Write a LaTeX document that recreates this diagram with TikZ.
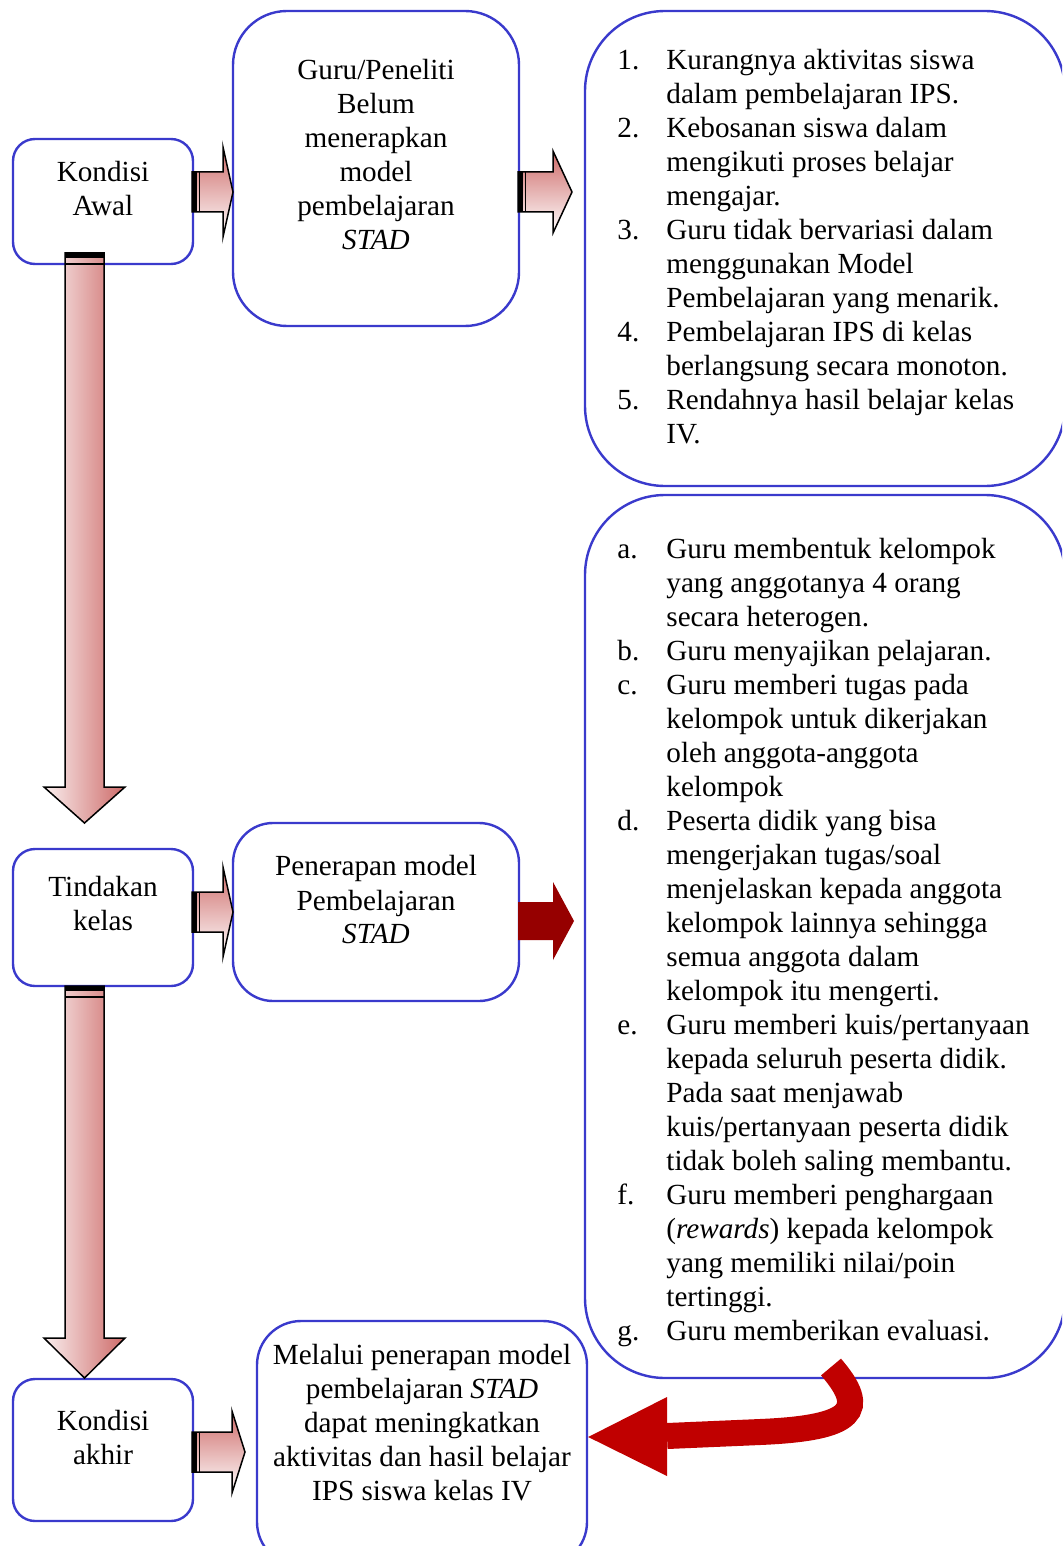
\documentclass[tikz,border=0pt]{standalone}
\usepackage{fontspec}
\setmainfont{Liberation Serif}
\usepackage{tikz}
\usetikzlibrary{calc}

\definecolor{garisbiru}{RGB}{58,58,204}
\definecolor{merahmuda}{RGB}{200,90,88}
\definecolor{merahtua}{RGB}{150,0,0}
\definecolor{merahterang}{RGB}{192,0,0}

\tikzset{
  kotak/.style={draw=garisbiru, line width=1.2pt, fill=white},
  teks/.style={align=center, inner sep=0pt, font=\fontsize{14.6}{17}\selectfont},
  daftar/.style={inner sep=0pt, font=\fontsize{14.6}{17}\selectfont},
  panah/.style={draw=black, line width=0.75pt},
}

% panah kanan berongga: pangkal, leher, ujung, tengah y, setengah kepala
\newcommand{\panahkanan}[5]{%
  \draw[panah, top color=merahmuda!90, bottom color=white]
    (#1,#4-20) -- (#2,#4-20) -- (#2,#4-#5) -- (#3,#4) -- (#2,#4+#5) -- (#2,#4+20) -- (#1,#4+20) -- cycle;
  \fill[black] (#1,#4-20) rectangle (#1+5,#4+20);
  \draw[line width=0.6pt] (#1+7.5,#4-20) -- (#1+7.5,#4+20);
}
% panah bawah: atas, leher, ujung
\newcommand{\panahbawah}[3]{%
  \draw[panah, left color=merahmuda!10, right color=merahmuda!90]
    (65,#1) -- (65,#2) -- (44,#2) -- (84.5,#3) -- (125,#2) -- (104,#2) -- (104,#1) -- cycle;
  \fill[black] (65,#1) rectangle (104,#1+5);
  \draw[line width=0.8pt] (65,#1+11) -- (104,#1+11);
}

\begin{document}
\begin{tikzpicture}[x=0.5pt, y=-0.5pt]

	\useasboundingbox (0,0) rectangle (1062,1546);
	\clip (0,0) rectangle (1062,1546);

	% kotak-kotak
	\node[kotak, minimum width=90pt, minimum height=62.5pt, rounded corners=11pt] (awal) at (103,201.5) {};
	\node[kotak, minimum width=143pt, minimum height=157.5pt, rounded corners=27pt] (guru) at (376,168.5) {};
	\node[kotak, minimum width=240pt, minimum height=237.5pt, rounded corners=40pt] (masalah) at (825,248.5) {};
	\node[kotak, minimum width=240pt, minimum height=441.5pt, rounded corners=40pt] (langkah) at (825,936.5) {};
	\node[kotak, minimum width=90pt, minimum height=68.5pt, rounded corners=11pt] (tindakan) at (103,917.5) {};
	\node[kotak, minimum width=143pt, minimum height=89pt, rounded corners=20pt] (penerapan) at (376,912) {};
	\node[kotak, minimum width=90pt, minimum height=71pt, rounded corners=11pt] (akhir) at (103,1450) {};
	\node[kotak, minimum width=165pt, minimum height=122.5pt, rounded corners=22pt] (hasil) at (422,1443.5) {};

	% teks
	\node[teks] (awal-teks) at (103,189) {Kondisi\\Awal};
	\node[teks] (guru-teks) at (376,154.5) {Guru/Peneliti\\Belum\\menerapkan\\model\\pembelajaran\\\textit{STAD}};
	\node[teks] (tindakan-teks) at (103,904) {Tindakan\\kelas};
	\node[teks] (penerapan-teks) at (376,900) {Penerapan model\\Pembelajaran\\\textit{STAD}};
	\node[teks] (akhir-teks) at (103,1437) {Kondisi\\akhir};
	\node[teks] (hasil-teks) at (422,1423) {Melalui penerapan model\\pembelajaran \textit{STAD}\\dapat meningkatkan\\aktivitas dan hasil belajar\\IPS siswa kelas IV};

	\node[daftar, anchor=base west] (masalah-isi) at (617,70) {%
		\begin{tabular}[t]{@{}p{24.5pt}@{}l@{}}
		1. & Kurangnya aktivitas siswa\\
		   & dalam pembelajaran IPS.\\
		2. & Kebosanan siswa dalam\\
		   & mengikuti proses belajar\\
		   & mengajar.\\
		3. & Guru tidak bervariasi dalam\\
		   & menggunakan Model\\
		   & Pembelajaran yang menarik.\\
		4. & Pembelajaran IPS di kelas\\
		   & berlangsung secara monoton.\\
		5. & Rendahnya hasil belajar kelas\\
		   & IV.
		\end{tabular}};

	\node[daftar, anchor=base west] (langkah-isi) at (617,558) {%
		\begin{tabular}[t]{@{}p{24.5pt}@{}l@{}}
		a. & Guru membentuk kelompok\\
		   & yang anggotanya 4 orang\\
		   & secara heterogen.\\
		b. & Guru menyajikan pelajaran.\\
		c. & Guru memberi tugas pada\\
		   & kelompok untuk dikerjakan\\
		   & oleh anggota-anggota\\
		   & kelompok\\
		d. & Peserta didik yang bisa\\
		   & mengerjakan tugas/soal\\
		   & menjelaskan kepada anggota\\
		   & kelompok lainnya sehingga\\
		   & semua anggota dalam\\
		   & kelompok itu mengerti.\\
		e. & Guru memberi kuis/pertanyaan\\
		   & kepada seluruh peserta didik.\\
		   & Pada saat menjawab\\
		   & kuis/pertanyaan peserta didik\\
		   & tidak boleh saling membantu.\\
		f. & Guru memberi penghargaan\\
		   & (\textit{rewards}) kepada kelompok\\
		   & yang memiliki nilai/poin\\
		   & tertinggi.\\
		g. & Guru memberikan evaluasi.
		\end{tabular}};

	% panah-panah blok
	\panahkanan{192}{223}{233}{192}{45}
	\panahkanan{518}{553}{572}{192}{41}
	\panahkanan{192}{223}{233}{912}{45}
	\panahkanan{192}{232}{245}{1452}{41}

	\panahbawah{253}{787}{823}
	\panahbawah{986}{1338}{1378}

	\fill[merahtua] (518,902) -- (553,902) -- (553,882) -- (574,921) -- (553,960) -- (553,940) -- (518,940) -- cycle;

	% panah lengkung kembali ke kesimpulan
	\coordinate (lengkung-awal) at (831,1367);
	\coordinate (lengkung-leher) at (667,1436);
	\draw[merahterang, line width=13pt] (lengkung-awal) .. controls (868,1410) and (855,1428) .. (760,1432) -- (lengkung-leher);
	\fill[merahterang] (hasil.east |- 0,1437) -- (667,1397) -- (667,1476) -- cycle;

\end{tikzpicture}
\end{document}
